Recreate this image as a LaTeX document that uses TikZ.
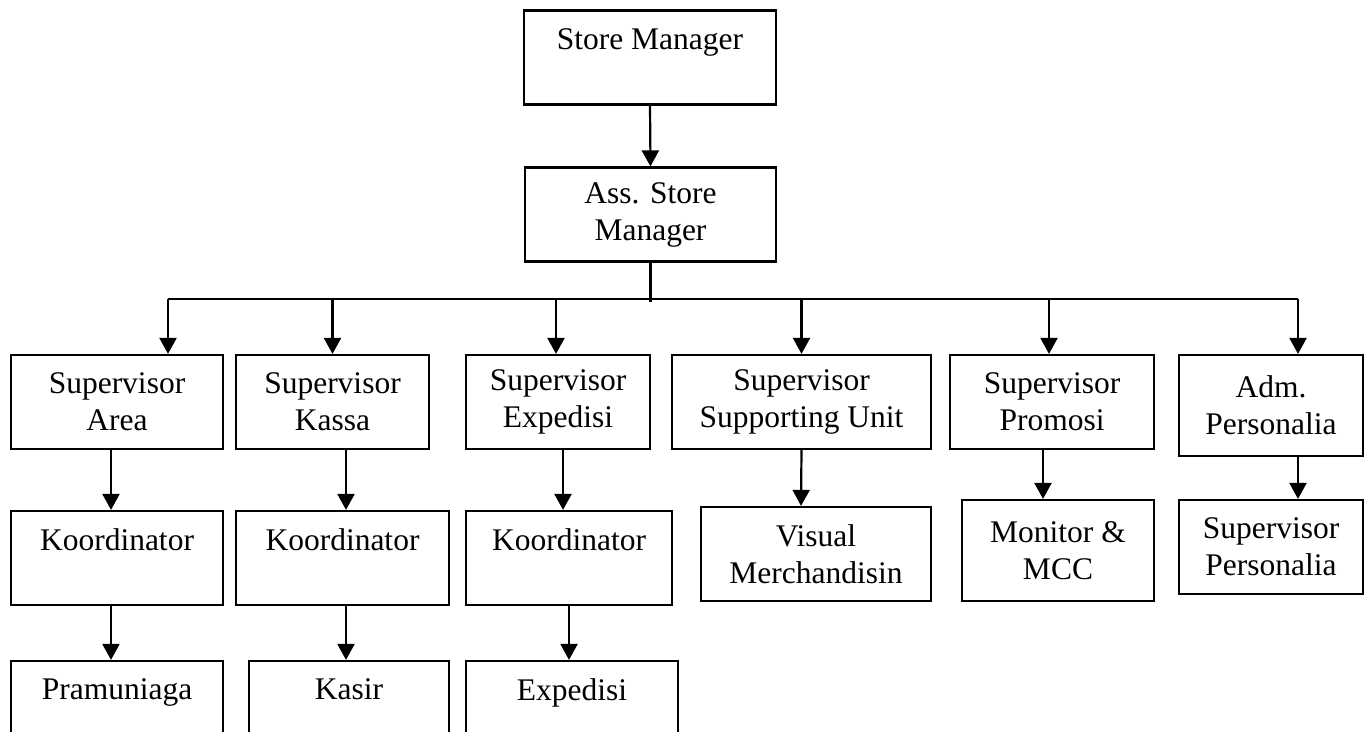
\documentclass[tikz,border=0pt]{standalone}
\usepackage{fontspec}
\setmainfont{Liberation Serif}
\usetikzlibrary{arrows.meta}

\tikzset{
  orgbox/.style={draw=black, line width=2.2pt, rectangle, align=center, inner sep=0pt,
    minimum height=94, font=\fontsize{31.5}{37}\selectfont},
  link/.style={draw=black, line width=2.2pt},
  arr/.style={link, -{Triangle[width=17pt,length=16pt]}}
}

\begin{document}
\begin{tikzpicture}[x=1pt,y=-1pt]
    \clip (0,0) rectangle (1368,731);
    % top of the chart
    \node[orgbox, minimum width=252] (sm) at (650,57.5) {Store Manager\\\mbox{}};
    \node[orgbox, minimum width=251] (asm) at (650.5,214.5) {Ass. Store\\Manager};
    % supervisors
    \node[orgbox, minimum width=212] (spvarea) at (117,402) {Supervisor\\Area};
    \node[orgbox, minimum width=193] (spvkassa) at (332.5,402) {Supervisor\\Kassa};
    \node[orgbox, minimum width=184] (spvexp) at (558,402) {Supervisor\\Expedisi};
    \node[orgbox, minimum width=259] (spvsu) at (801.5,402) {Supervisor\\Supporting Unit};
    \node[orgbox, minimum width=204] (spvpromo) at (1052,402) {Supervisor\\Promosi};
    \node[orgbox, minimum width=184, minimum height=101] (admpers) at (1271,405.5) {Adm.\\Personalia};
    % second row
    \node[orgbox, minimum width=212] (koorarea) at (117,558) {Koordinator\\\mbox{}};
    \node[orgbox, minimum width=213] (koorkassa) at (342.5,558) {Koordinator\\\mbox{}};
    \node[orgbox, minimum width=206] (koorexp) at (569,558) {Koordinator\\\mbox{}};
    \node[orgbox, minimum width=230] (visual) at (816,554) {Visual\\Merchandisin};
    \node[orgbox, minimum width=192, minimum height=101] (monitor) at (1058,550.5) {Monitor \&\\MCC};
    \node[orgbox, minimum width=184] (spvpers) at (1271,547) {Supervisor\\Personalia};
    % third row
    \node[orgbox, minimum width=212] (pramuniaga) at (117,708) {Pramuniaga\\\mbox{}};
    \node[orgbox, minimum width=200] (kasir) at (349,708) {Kasir\\\mbox{}};
    \node[orgbox, minimum width=212] (expedisi) at (572,708) {Expedisi\\\mbox{}};

    \draw[arr] (sm.south) -- (asm.north);
    % bus line
    \draw[link] (asm.south) -- ++(0,39);
    \draw[link] ([xshift=51,yshift=55]spvarea.north) -- ([xshift=27,yshift=55]admpers.north);
    \draw[arr] ([xshift=51,yshift=55]spvarea.north) -- ([xshift=51]spvarea.north);
    \draw[arr] ([yshift=55]spvkassa.north) -- (spvkassa.north);
    \draw[arr] ([xshift=-2,yshift=55]spvexp.north) -- ([xshift=-2]spvexp.north);
    \draw[arr] ([yshift=55]spvsu.north) -- (spvsu.north);
    \draw[arr] ([xshift=-3,yshift=55]spvpromo.north) -- ([xshift=-3]spvpromo.north);
    \draw[arr] ([xshift=27,yshift=55]admpers.north) -- ([xshift=27]admpers.north);
    % down the columns
    \draw[arr] ([xshift=-6]spvarea.south) -- ([xshift=-6]koorarea.north);
    \draw[arr] ([xshift=13.5]spvkassa.south) -- ([xshift=3.5]koorkassa.north);
    \draw[arr] ([xshift=5]spvexp.south) -- ([xshift=-6]koorexp.north);
    \draw[arr] (spvsu.south) -- ([xshift=-15]visual.north);
    \draw[arr] ([xshift=-9]spvpromo.south) -- ([xshift=-15]monitor.north);
    \draw[arr] ([xshift=27]admpers.south) -- ([xshift=27]spvpers.north);
    \draw[arr] ([xshift=-6]koorarea.south) -- ([xshift=-6]pramuniaga.north);
    \draw[arr] ([xshift=3.5]koorkassa.south) -- ([xshift=-3]kasir.north);
    \draw[arr] (koorexp.south) -- ([xshift=-3]expedisi.north);
\end{tikzpicture}
\end{document}
